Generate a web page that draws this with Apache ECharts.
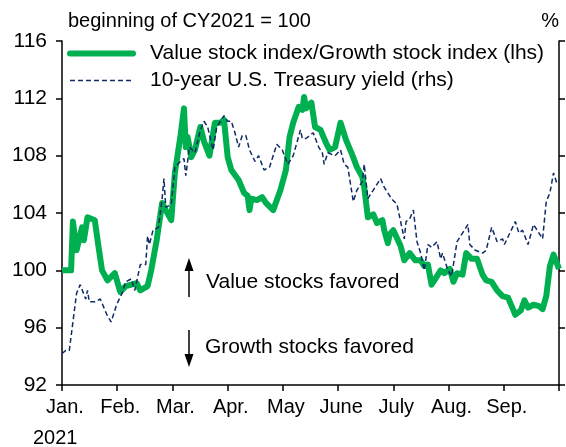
<!DOCTYPE html>
<html>
<head>
<meta charset="utf-8">
<script src="https://cdn.jsdelivr.net/npm/echarts@6/dist/echarts.min.js"></script>
<style>
  html, body { margin: 0; padding: 0; background: #fff; }
  #main { width: 566px; height: 447px; }
</style>
</head>
<body>
<div id="main"></div>
<script>
// month tick labels (one tick per month start, Jan 1 .. Oct 1)
var monthLabels = ['Jan.', 'Feb.', 'Mar.', 'Apr.', 'May', 'June', 'July', 'Aug.', 'Sep.', ''];

// value/growth ratio, beginning of 2021 = 100 (day = days since Jan 1)
var ratioDays = [0, 5, 6, 8, 11, 12, 14, 18, 20, 22, 25, 26, 29, 32, 35, 41, 43, 47, 49, 52,
  55, 57, 60, 62, 65, 67, 68, 69, 71, 73, 76, 78, 81, 84, 87, 89, 91, 93, 97, 100,
  102, 103, 104, 107, 110, 112, 116, 120, 123, 125, 127, 130, 132, 133, 134, 137, 139, 142, 145, 147,
  150, 153, 156, 159, 162, 165, 166, 168, 171, 173, 176, 177, 179, 180, 182, 186, 188, 191, 194, 197,
  199, 201, 203, 206, 208, 210, 213, 215, 217, 220, 222, 225, 228, 231, 233, 236, 239, 242, 245, 247,
  249, 252, 254, 256, 259, 262, 264, 266, 268, 270, 273];
var ratioValues = [100.0, 100.0, 103.4, 101.4, 103.0, 102.1, 103.7, 103.5, 101.7, 100.0, 99.3, 99.2, 99.8, 98.5, 98.9, 99.1, 98.6, 98.9, 100.0, 102.1,
  104.7, 104.2, 103.5, 106.8, 109.3, 111.3, 108.6, 109.3, 107.9, 108.4, 110.0, 109.0, 108.0, 110.3, 110.3, 110.5, 107.9, 107.0, 106.3, 105.4,
  105.2, 104.2, 105.0, 104.9, 105.1, 104.7, 104.2, 105.6, 107.0, 109.3, 110.3, 111.4, 111.2, 112.1, 111.3, 111.7, 110.0, 109.8, 108.9, 108.4,
  108.6, 110.3, 109.1, 108.2, 107.2, 106.5, 105.8, 103.7, 103.9, 103.3, 103.5, 102.8, 101.9, 102.5, 102.8, 101.7, 100.7, 101.2, 100.7, 100.7,
  100.3, 100.4, 99.0, 99.6, 100.0, 99.8, 100.1, 99.2, 99.8, 99.7, 101.2, 100.8, 100.8, 99.7, 99.3, 99.2, 98.6, 98.2, 98.1, 97.5,
  96.9, 97.2, 97.9, 97.4, 97.6, 97.5, 97.3, 98.2, 100.3, 101.1, 100.1];

// 10-year U.S. Treasury yield, %
var yieldDays = [0, 2, 4, 8, 10, 13, 14, 15, 18, 21, 25, 27, 30, 33, 35, 38, 40, 43, 46, 47,
  48, 50, 53, 55, 56, 57, 60, 62, 65, 67, 68, 70, 73, 76, 78, 80, 83, 85, 87, 89,
  91, 93, 95, 97, 99, 101, 103, 106, 108, 111, 114, 118, 121, 124, 127, 131, 132, 134, 138, 141,
  143, 144, 146, 150, 153, 155, 157, 160, 162, 165, 166, 168, 171, 175, 177, 181, 184, 186, 188, 189,
  191, 193, 195, 197, 199, 201, 203, 206, 208, 209, 212, 214, 217, 220, 223, 224, 227, 231, 233, 236,
  239, 242, 243, 246, 249, 251, 253, 256, 259, 262, 264, 266, 268, 270, 272];
var yieldValues = [0.91, 0.92, 0.92, 1.12, 1.15, 1.10, 1.13, 1.09, 1.09, 1.10, 1.04, 1.02, 1.08, 1.12, 1.16, 1.17, 1.13, 1.22, 1.22, 1.32,
  1.29, 1.34, 1.35, 1.45, 1.52, 1.42, 1.43, 1.56, 1.58, 1.59, 1.53, 1.63, 1.61, 1.69, 1.72, 1.70, 1.62, 1.70, 1.72, 1.74,
  1.72, 1.72, 1.68, 1.63, 1.67, 1.67, 1.62, 1.58, 1.60, 1.55, 1.56, 1.64, 1.62, 1.57, 1.60, 1.69, 1.66, 1.66, 1.68, 1.63,
  1.61, 1.57, 1.61, 1.60, 1.62, 1.57, 1.56, 1.44, 1.48, 1.51, 1.57, 1.45, 1.48, 1.52, 1.49, 1.45, 1.43, 1.37, 1.31, 1.37,
  1.38, 1.41, 1.30, 1.26, 1.20, 1.29, 1.28, 1.30, 1.24, 1.26, 1.20, 1.18, 1.30, 1.33, 1.36, 1.29, 1.27, 1.26, 1.27, 1.35,
  1.30, 1.31, 1.29, 1.33, 1.37, 1.33, 1.34, 1.29, 1.36, 1.33, 1.31, 1.44, 1.47, 1.54, 1.50];

var FONT = '"Liberation Sans", Arial, sans-serif';
var axisStyle = { color: '#000', width: 1.5 };

var myChart = echarts.init(document.getElementById('main'));
myChart.setOption({
  animation: false,
  textStyle: { fontFamily: FONT, color: '#000' },
  grid: { left: 62, right: 7, top: 41, bottom: 62 },
  legend: {
    orient: 'vertical',
    left: 67,
    top: 43,
    padding: 0,
    itemWidth: 63,
    itemHeight: 14,
    itemGap: 6,
    itemStyle: { opacity: 0 },
    textStyle: { fontSize: 21, color: '#000', fontFamily: FONT, padding: [0, 0, 0, 12] },
    data: [
      { name: 'Value stock index/Growth stock index (lhs)', lineStyle: { width: 6, cap: 'round' } },
      { name: '10-year U.S. Treasury yield (rhs)', lineStyle: { width: 1.5 } }
    ]
  },
  xAxis: [
    { type: 'value', min: 0, max: 273, show: false, position: 'bottom' },
    {
      type: 'category',
      position: 'bottom',
      data: monthLabels,
      boundaryGap: false,
      axisLine: { lineStyle: axisStyle },
      axisTick: { length: 6, interval: 0, lineStyle: axisStyle },
      axisLabel: { interval: 0, fontSize: 20, color: '#000', fontFamily: FONT, margin: 12, padding: [0, 0, 0, 6] },
      splitLine: { show: false }
    }
  ],
  yAxis: [
    {
      type: 'value',
      position: 'left',
      min: 92, max: 116, interval: 4,
      name: 'beginning of CY2021 = 100',
      nameLocation: 'end',
      nameGap: 10,
      nameTextStyle: { fontSize: 20, color: '#000', fontFamily: FONT, align: 'left', padding: [0, 0, 0, 6] },
      axisLine: { show: true, lineStyle: axisStyle },
      axisTick: { show: true, length: 6, lineStyle: axisStyle },
      axisLabel: { fontSize: 21, color: '#000', fontFamily: FONT, margin: 15 },
      splitLine: { show: false }
    },
    {
      type: 'value',
      position: 'right',
      min: 0.8, max: 2.0, interval: 0.2,
      name: '%',
      nameLocation: 'end',
      nameGap: 10,
      nameTextStyle: { fontSize: 20, color: '#000', fontFamily: FONT, align: 'right' },
      axisLine: { show: true, lineStyle: axisStyle },
      axisTick: { show: true, length: 6, lineStyle: axisStyle },
      axisLabel: { show: false },
      splitLine: { show: false }
    }
  ],
  series: [
    {
      name: 'Value stock index/Growth stock index (lhs)',
      type: 'line',
      xAxisIndex: 0,
      yAxisIndex: 0,
      symbol: 'none',
      lineStyle: { color: '#00b050', width: 6, join: 'round' },
      itemStyle: { color: '#00b050' },
      data: ratioDays.map(function (d, i) { return [d, ratioValues[i]]; })
    },
    {
      name: '10-year U.S. Treasury yield (rhs)',
      type: 'line',
      xAxisIndex: 0,
      yAxisIndex: 1,
      symbol: 'none',
      lineStyle: { color: '#102a66', width: 1.5, type: [5, 3] },
      itemStyle: { color: '#102a66' },
      data: yieldDays.map(function (d, i) { return [d, yieldValues[i]]; })
    }
  ],
  graphic: [
    { type: 'text', left: 33, top: 428, style: { text: '2021', font: '20px ' + FONT, fill: '#000' } },
    { type: 'line', shape: { x1: 189, y1: 297, x2: 189, y2: 268 }, style: { stroke: '#000', lineWidth: 1.5 } },
    { type: 'polygon', shape: { points: [[189, 258], [184.5, 271], [193.5, 271]] }, style: { fill: '#000' } },
    { type: 'line', shape: { x1: 189, y1: 330, x2: 189, y2: 356 }, style: { stroke: '#000', lineWidth: 1.5 } },
    { type: 'polygon', shape: { points: [[189, 367], [184.5, 354], [193.5, 354]] }, style: { fill: '#000' } },
    { type: 'text', x: 206, y: 282, style: { text: 'Value stocks favored', font: '21px ' + FONT, fill: '#000', verticalAlign: 'middle' } },
    { type: 'text', x: 205, y: 347, style: { text: 'Growth stocks favored', font: '21px ' + FONT, fill: '#000', verticalAlign: 'middle' } }
  ]
});
</script>
</body>
</html>
